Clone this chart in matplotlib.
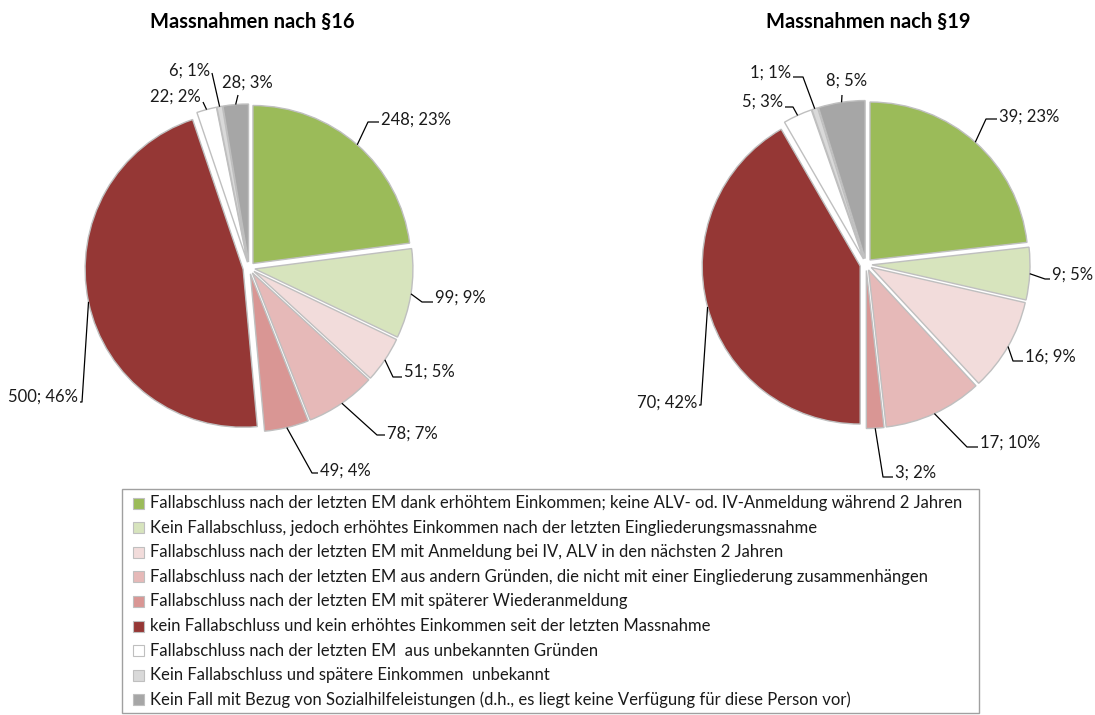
import numpy as np
import matplotlib
matplotlib.use("Agg")
import matplotlib.pyplot as plt
from matplotlib.patches import Rectangle

# ---------------- data ----------------
categories = [
    "Fallabschluss nach der letzten EM dank erhöhtem Einkommen; keine ALV- od. IV-Anmeldung während 2 Jahren",
    "Kein Fallabschluss, jedoch erhöhtes Einkommen nach der letzten Eingliederungsmassnahme",
    "Fallabschluss nach der letzten EM mit Anmeldung bei IV, ALV in den nächsten 2 Jahren",
    "Fallabschluss nach der letzten EM aus andern Gründen, die nicht mit einer Eingliederung zusammenhängen",
    "Fallabschluss nach der letzten EM mit späterer Wiederanmeldung",
    "kein Fallabschluss und kein erhöhtes Einkommen seit der letzten Massnahme",
    "Fallabschluss nach der letzten EM  aus unbekannten Gründen",
    "Kein Fallabschluss und spätere Einkommen  unbekannt",
    "Kein Fall mit Bezug von Sozialhilfeleistungen (d.h., es liegt keine Verfügung für diese Person vor)",
]
values_16 = [248, 99, 51, 78, 49, 500, 22, 6, 28]
pct_16 = [23, 9, 5, 7, 4, 46, 2, 1, 3]
values_19 = [39, 9, 16, 17, 3, 70, 5, 1, 8]
pct_19 = [23, 5, 9, 10, 2, 42, 3, 1, 5]
titles = ["Massnahmen nach §16", "Massnahmen nach §19"]

colors = ["#9BBB59", "#D7E4BD", "#F2DCDB", "#E6B9B8", "#D99694",
          "#953735", "#FFFFFF", "#D9D9D9", "#A6A6A6"]

# ---------------- layout (pixels) ----------------
W, H = 1095, 715
FONT = "Lato"
plt.rcParams["font.family"] = [FONT, "DejaVu Sans"]
FS = 12

def Y(y):
    return H - y

fig = plt.figure(figsize=(W / 100, H / 100), dpi=100)
ax = fig.add_axes([0, 0, 1, 1])

R = 158
EXPL = 6.0   # outward offset of each slice, in pixels
centers = [(249, 268), (866, 264.5)]
title_x = [252, 868]

# (elbow, end, text_x, text_y, ha)
layouts = [
    [((368, 122), (379, 122), 381, 120, "left"),
     ((422, 302), (433, 302), 435, 298, "left"),
     ((393, 377), (402, 377), 404, 372, "left"),
     ((377, 435), (385, 435), 387, 434, "left"),
     ((312, 473), (318, 473), 320, 471, "left"),
     ((82, 402), (80, 402), 78, 397, "right"),
     ((203, 102), (203, 102), 201, 97, "right"),
     ((212, 73), (212, 73), 210, 71, "right"),
     ((238, 95), (238, 95), 247, 83, "center")],
    [((986, 119), (997, 119), 999, 117, "left"),
     ((1045, 279), (1050, 279), 1052, 275, "left"),
     ((1013, 361), (1023, 361), 1025, 357, "left"),
     ((967, 447), (978, 447), 980, 443, "left"),
     ((883, 477), (893, 477), 895, 473, "left"),
     ((701, 405), (699, 405), 697, 403, "right"),
     ((793, 107), (785, 107), 783, 102, "right"),
     ((803, 77), (793, 77), 791, 73, "right"),
     ((842, 95), (842, 95), 847, 81, "center")],
]

for vals, pcts, (cx, cy), lay, tx, title in zip(
        [values_16, values_19], [pct_16, pct_19], centers, layouts, title_x, titles):
    wedges, _ = ax.pie(vals, colors=colors, startangle=90, counterclock=False,
                       explode=[EXPL] * len(vals), radius=R, center=(cx, Y(cy)),
                       wedgeprops=dict(edgecolor="#BFBFBF", linewidth=1.0))
    for w, v, p, (elb, end, lx, ly, ha) in zip(wedges, vals, pcts, lay):
        th = np.deg2rad((w.theta1 + w.theta2) / 2)
        px = w.center[0] + w.r * np.cos(th)
        py = w.center[1] + w.r * np.sin(th)
        ax.plot([px, elb[0], end[0]], [py, Y(elb[1]), Y(end[1])],
                color="black", lw=0.9, solid_capstyle="butt", zorder=5)
        ax.text(lx, Y(ly), f"{v}; {p}%", ha=ha, va="center",
                fontsize=FS, color="#1a1a1a", zorder=6)
    fig.text(tx / W, 1 - 22 / H, title, ha="center", va="center",
             fontsize=14.5, fontweight="bold", color="black")

# ---------------- legend (drawn manually) ----------------
LEG_X0, LEG_X1, LEG_Y0, LEG_Y1 = 122, 979, 489, 713
ROW0, ROW_STEP = 503, 24.6
SQ = 11
ax.add_patch(Rectangle((LEG_X0, Y(LEG_Y1)), LEG_X1 - LEG_X0, LEG_Y1 - LEG_Y0,
                       facecolor="white", edgecolor="#A0A0A0", linewidth=1.0, zorder=3))
for i, (c, lab) in enumerate(zip(colors, categories)):
    yc = ROW0 + i * ROW_STEP
    ax.add_patch(Rectangle((133, Y(yc) - SQ / 2), SQ, SQ, facecolor=c,
                           edgecolor="#BFBFBF", linewidth=0.8, zorder=4))
    ax.text(150, Y(yc), lab, ha="left", va="center", fontsize=FS,
            color="#1a1a1a", zorder=4)

ax.set_xlim(0, W)
ax.set_ylim(0, H)
ax.set_aspect("auto")
ax.axis("off")

fig.savefig("out.png", dpi=100)
